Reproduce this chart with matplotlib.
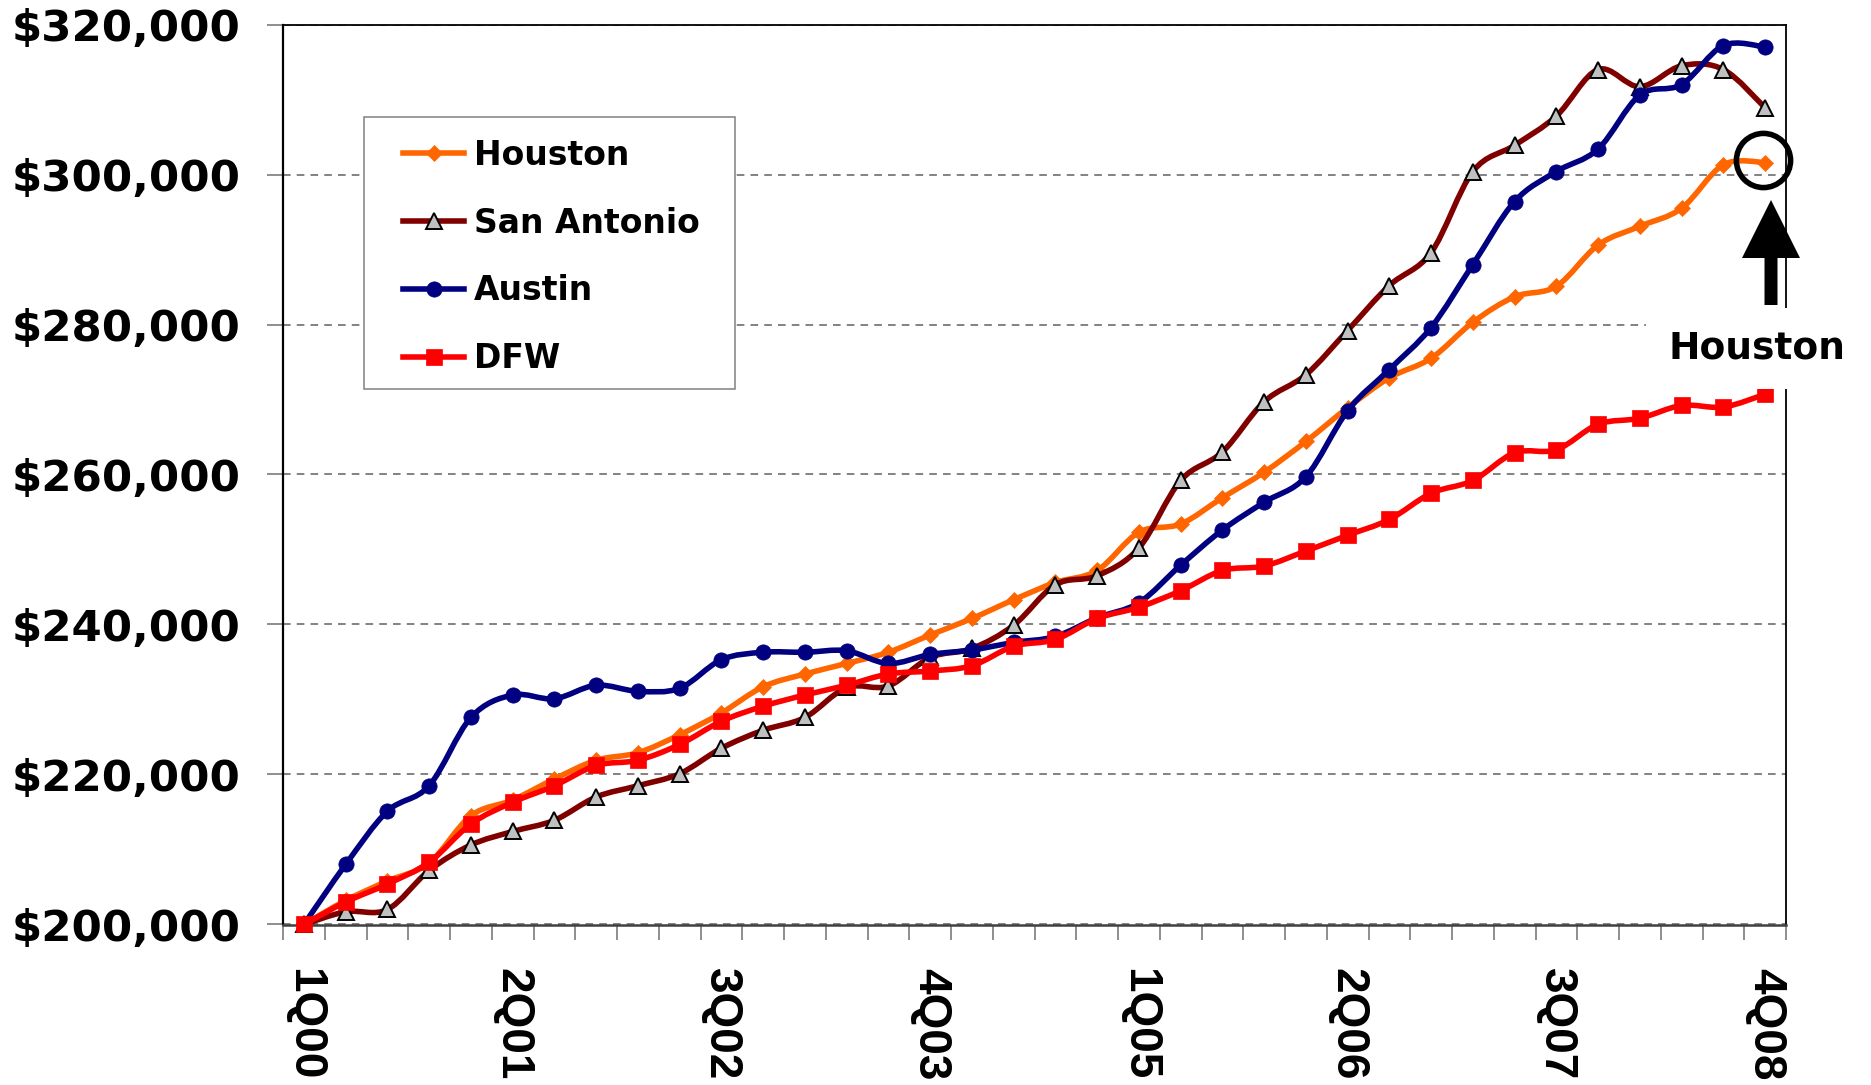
import numpy as np
import matplotlib
matplotlib.use("Agg")
import matplotlib.pyplot as plt
from matplotlib.path import Path
from matplotlib.patches import PathPatch, FancyArrow, Rectangle
from matplotlib.lines import Line2D

# Quarterly median price series, 1Q00 - 4Q08
quarters = ["1Q00", "2Q00", "3Q00", "4Q00", "1Q01", "2Q01", "3Q01", "4Q01",
            "1Q02", "2Q02", "3Q02", "4Q02", "1Q03", "2Q03", "3Q03", "4Q03",
            "1Q04", "2Q04", "3Q04", "4Q04", "1Q05", "2Q05", "3Q05", "4Q05",
            "1Q06", "2Q06", "3Q06", "4Q06", "1Q07", "2Q07", "3Q07", "4Q07",
            "1Q08", "2Q08", "3Q08", "4Q08"]
labelled_quarters = ["1Q00", "2Q01", "3Q02", "4Q03", "1Q05", "2Q06", "3Q07", "4Q08"]

houston = [200.0, 203.2, 205.8, 208.2, 214.5, 216.6, 219.4, 221.9, 222.9, 225.3,
           228.2, 231.7, 233.4, 234.8, 236.3, 238.6, 240.8, 243.3, 245.6, 247.2,
           252.3, 253.4, 256.9, 260.3, 264.4, 268.9, 272.9, 275.5, 280.3, 283.7,
           285.1, 290.6, 293.1, 295.5, 301.3, 301.6]
san_antonio = [200.0, 201.7, 202.0, 207.2, 210.6, 212.4, 213.9, 217.0, 218.5, 220.1,
               223.5, 225.9, 227.6, 231.6, 231.8, 235.6, 236.8, 239.9, 245.3, 246.5,
               250.2, 259.2, 263.0, 269.7, 273.3, 279.2, 285.2, 289.6, 300.4, 303.9,
               307.8, 314.0, 311.7, 314.5, 314.0, 308.9]
austin = [200.0, 208.0, 215.1, 218.5, 227.6, 230.6, 230.1, 231.9, 231.1, 231.5,
          235.3, 236.3, 236.3, 236.5, 234.8, 236.0, 236.6, 237.6, 238.4, 240.9,
          242.9, 247.9, 252.6, 256.3, 259.7, 268.5, 274.0, 279.6, 288.0, 296.4,
          300.4, 303.4, 310.6, 312.0, 317.2, 317.0]
dfw = [200.0, 203.0, 205.4, 208.3, 213.4, 216.3, 218.5, 221.2, 221.9, 224.0,
       227.1, 229.1, 230.6, 231.9, 233.4, 233.8, 234.5, 237.1, 238.0, 240.8,
       242.3, 244.5, 247.2, 247.8, 249.8, 251.9, 254.0, 257.5, 259.2, 262.9,
       263.3, 266.7, 267.5, 269.2, 269.0, 270.7]

series_names = ["Houston", "San Antonio", "Austin", "DFW"]
series_values = [houston, san_antonio, austin, dfw]
y_ticks = [200000, 220000, 240000, 260000, 280000, 300000, 320000]

styles = {
    "Houston": dict(color="#FF6600", marker="D", ms=8.2, mfc="#FF6600", mec="#FF6600", mew=0.5),
    "San Antonio": dict(color="#800000", marker="^", ms=11.5, mfc="#C0C0C0", mec="black", mew=1.4),
    "Austin": dict(color="#000080", marker="o", ms=11.0, mfc="#000080", mec="#000080", mew=0.5),
    "DFW": dict(color="#FF0000", marker="s", ms=11.5, mfc="#FF0000", mec="#FF0000", mew=0.5),
}
LW = 4.0

W, H = 1871, 1085
fig = plt.figure(figsize=(W / 100, H / 100), dpi=100)
ax = fig.add_axes([283 / W, 1 - 924.5 / H, (1786 - 283) / W, (924.5 - 24.5) / H])


def smooth_path(xs, ys):
    """Cardinal-spline (smoothed line) path through the points."""
    n = len(xs)
    verts = [(xs[0], ys[0])]
    codes = [Path.MOVETO]
    for i in range(n - 1):
        xp, yp = (xs[i - 1], ys[i - 1]) if i > 0 else (xs[i], ys[i])
        xn, yn = (xs[i + 2], ys[i + 2]) if i + 2 < n else (xs[i + 1], ys[i + 1])
        c1 = (xs[i] + (xs[i + 1] - xp) / 6.0, ys[i] + (ys[i + 1] - yp) / 6.0)
        c2 = (xs[i + 1] - (xn - xs[i]) / 6.0, ys[i + 1] - (yn - ys[i]) / 6.0)
        verts += [c1, c2, (xs[i + 1], ys[i + 1])]
        codes += [Path.CURVE4] * 3
    return Path(verts, codes)


x = np.arange(len(quarters))
handles = []
for k, (name, vals) in enumerate(zip(series_names, series_values)):
    st = styles[name]
    y = np.array(vals) * 1000.0
    patch = PathPatch(smooth_path(x, y), facecolor="none", edgecolor=st["color"],
                      lw=LW, capstyle="round", joinstyle="round", zorder=2 + k * 0.2)
    ax.add_patch(patch)
    ax.plot(x, y, linestyle="none", marker=st["marker"], ms=st["ms"], mfc=st["mfc"],
            mec=st["mec"], mew=st["mew"], zorder=2.1 + k * 0.2, clip_on=False)
    handles.append(Line2D([], [], color=st["color"], lw=LW, marker=st["marker"],
                          ms=st["ms"], mfc=st["mfc"], mec=st["mec"], mew=st["mew"]))

ax.set_xlim(-0.5, len(quarters) - 0.5)
ax.set_ylim(y_ticks[0], y_ticks[-1])

# y axis
ax.set_yticks(y_ticks)
ax.set_yticklabels([f"${v:,}" for v in y_ticks], fontfamily="DejaVu Sans",
                   fontweight="bold", fontsize=31.3)
ax.tick_params(axis="y", direction="out", length=11.5, width=1.1, color="#707070",
               pad=19)
ax.yaxis.grid(True, linestyle=(0, (5, 4)), color="#606060", lw=1.1)
ax.set_axisbelow(True)

# x axis: ticks between categories, labels every fifth quarter
ax.set_xticks(np.arange(-0.5, len(quarters)), labels=[])
ax.tick_params(axis="x", which="major", direction="out", length=11, width=1.1,
               color="#707070")
lab_pos = [quarters.index(q) for q in labelled_quarters]
ax.set_xticks(lab_pos, labels=labelled_quarters, minor=True)
ax.tick_params(axis="x", which="minor", length=0, pad=31)
for t in ax.get_xticklabels(minor=True):
    t.set_rotation(-90)
    t.set_fontsize(33)
    t.set_fontfamily("Liberation Sans")
    t.set_fontweight("bold")
    t.set_va("top")
    t.set_ha("center")

for side in ["left", "top", "right"]:
    ax.spines[side].set_color("black")
    ax.spines[side].set_linewidth(1.3)
ax.spines["left"].set_linewidth(1.6)
ax.spines["bottom"].set_color("#404040")
ax.spines["bottom"].set_linewidth(1.8)

# legend with a square grey frame
frame = Rectangle((364 / W, 1 - 389 / H), 371 / W, 272 / H, transform=fig.transFigure,
                  facecolor="white", edgecolor="#808080", lw=1.1, zorder=4.5,
                  clip_on=False)
ax.add_artist(frame)
leg = ax.legend(handles, series_names, loc="upper left",
                bbox_to_anchor=(403 / W, 1 - 139 / H), bbox_transform=fig.transFigure,
                frameon=False, borderpad=0, borderaxespad=0, handlelength=1.85,
                handletextpad=0.3, labelspacing=1.05,
                prop=dict(family="DejaVu Sans", weight="bold", size=23.8))
leg.set_zorder(5)

# call-out on the latest Houston value
ax.plot([x[-1] - 0.05], [houston[-1] * 1000.0 + 400], marker="o", ms=39, mfc="none",
        mec="black", mew=4.0, linestyle="none", zorder=6, clip_on=False)
fig.text(1757 / W, 1 - 358 / H, "Houston", ha="center", va="baseline",
         fontfamily="DejaVu Sans", fontweight="bold", fontsize=27, zorder=3,
         bbox=dict(boxstyle="square,pad=0.6", facecolor="white", edgecolor="none"))
arrow = FancyArrow(1771 / W, 1 - 305 / H, 0, 105 / H, width=13 / W,
                   head_width=58 / W, head_length=58 / H, length_includes_head=True,
                   transform=fig.transFigure, facecolor="black", edgecolor="black",
                   lw=0, zorder=4)
fig.add_artist(arrow)

fig.savefig("out.png", dpi=100, facecolor="white")
